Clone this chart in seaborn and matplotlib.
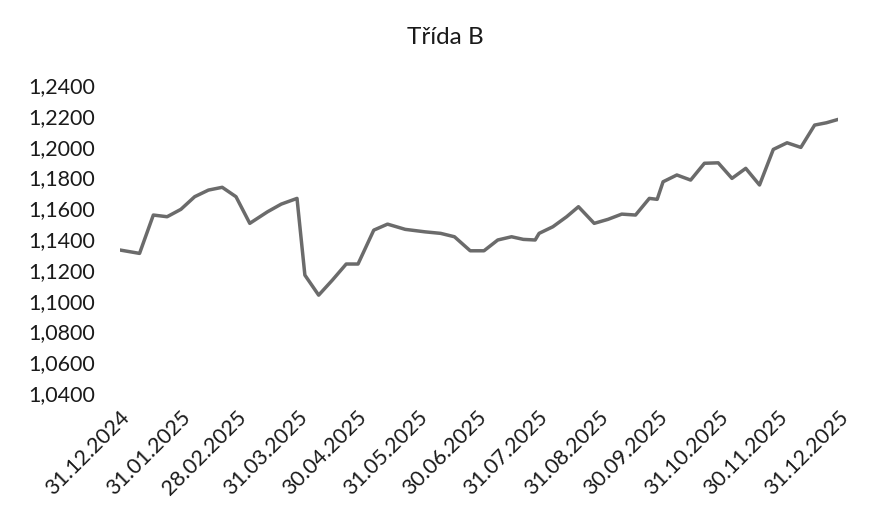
"""Třída B - weekly unit value line chart."""

import matplotlib
matplotlib.use('Agg')
import matplotlib.pyplot as plt
import pandas as pd
import seaborn as sns

sns.set_style("white")
plt.rcParams['font.family'] = ['Lato', 'DejaVu Sans']

# Data
dates = [
    '2024-12-31', '2025-01-10', '2025-01-17', '2025-01-24', '2025-01-31',
    '2025-02-07', '2025-02-14', '2025-02-21', '2025-02-28', '2025-03-07',
    '2025-03-16', '2025-03-23', '2025-03-31', '2025-04-04', '2025-04-11',
    '2025-04-18', '2025-04-25', '2025-05-01', '2025-05-09', '2025-05-16',
    '2025-05-25', '2025-06-04', '2025-06-12', '2025-06-19', '2025-06-27',
    '2025-07-04', '2025-07-11', '2025-07-18', '2025-07-24', '2025-07-30',
    '2025-08-01', '2025-08-08', '2025-08-15', '2025-08-21', '2025-08-29',
    '2025-09-05', '2025-09-12', '2025-09-19', '2025-09-26', '2025-09-30',
    '2025-10-03', '2025-10-10', '2025-10-17', '2025-10-24', '2025-10-31',
    '2025-11-07', '2025-11-14', '2025-11-21', '2025-11-28', '2025-12-05',
    '2025-12-12', '2025-12-19', '2025-12-25', '2025-12-31',
]
values = [
    1.1329, 1.1307, 1.1556, 1.1545, 1.1593,
    1.1675, 1.1718, 1.1736, 1.1675, 1.1502,
    1.1577, 1.1627, 1.1664, 1.1166, 1.1036,
    1.1134, 1.1238, 1.1238, 1.1458, 1.1497,
    1.1463, 1.1447, 1.1437, 1.1415, 1.1324,
    1.1324, 1.1394, 1.1415, 1.1398, 1.1394,
    1.1437, 1.1480, 1.1545, 1.1610, 1.1502,
    1.1528, 1.1562, 1.1556, 1.1664, 1.1658,
    1.1772, 1.1816, 1.1783, 1.1892, 1.1895,
    1.1794, 1.1859, 1.1751, 1.1982, 1.2025,
    1.1995, 1.2140, 1.2155, 1.2177,
]
tick_dates = [
    '2024-12-31', '2025-01-31', '2025-02-28', '2025-03-31', '2025-04-30',
    '2025-05-31', '2025-06-30', '2025-07-31', '2025-08-31', '2025-09-30',
    '2025-10-31', '2025-11-30', '2025-12-31',
]
y_ticks = [1.04, 1.06, 1.08, 1.10, 1.12, 1.14, 1.16, 1.18, 1.20, 1.22, 1.24]

df = pd.DataFrame({'date': pd.to_datetime(dates), 'value': values})

fig = plt.figure(figsize=(8.75, 5.2), dpi=100)
ax = fig.add_axes([0.137, 0.244, 0.821, 0.5925])

sns.lineplot(data=df, x='date', y='value', ax=ax, color='#6b6b6b', linewidth=2.5)

ax.set_ylim(1.04, 1.24)
ax.set_xlim(pd.Timestamp(tick_dates[0]), pd.Timestamp(tick_dates[-1]))
ax.set_yticks(y_ticks)
ax.set_yticklabels([f'{v:.4f}'.replace('.', ',') for v in y_ticks], fontsize=15.5, color='#1a1a1a')

ticks = pd.to_datetime(tick_dates)
ax.set_xticks(ticks)
ax.set_xticklabels([t.strftime('%d.%m.%Y') for t in ticks], fontsize=15.5, color='#1a1a1a',
                   rotation=45, ha='right', rotation_mode='anchor')

ax.tick_params(axis='both', length=0)
ax.tick_params(axis='y', pad=18)
ax.tick_params(axis='x', pad=10)
for s in ax.spines.values():
    s.set_visible(False)
ax.grid(False)
ax.set_xlabel('')
ax.set_ylabel('')

fig.text(0.509, 0.927, 'Třída B', fontsize=17.5, color='#1a1a1a', ha='center', va='center')

plt.savefig('out.png', dpi=100)
plt.close()
